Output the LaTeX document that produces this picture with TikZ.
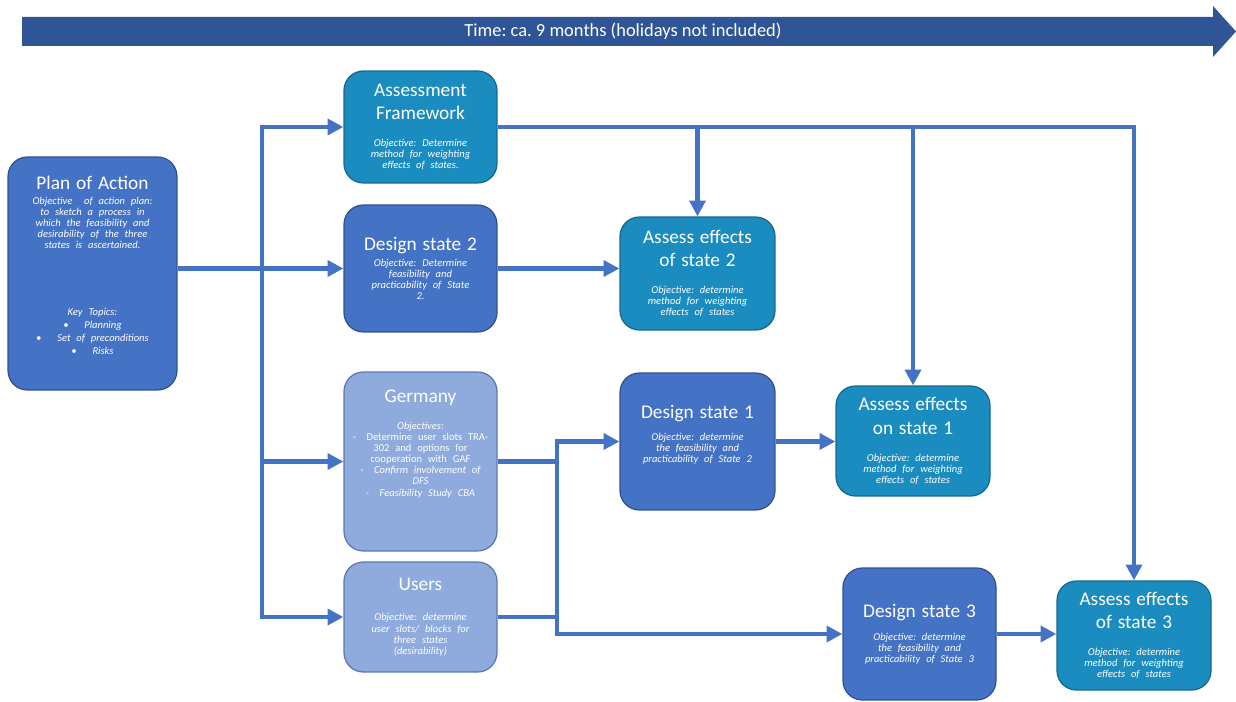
\documentclass[tikz,border=0pt]{standalone}
\usepackage{fontspec}
\setmainfont{Carlito}
\usetikzlibrary{arrows.meta}
\frenchspacing

\definecolor{boxblue}{HTML}{4472C4}
\definecolor{boxblueline}{HTML}{2F528F}
\definecolor{boxteal}{HTML}{1B8CC0}
\definecolor{boxtealline}{HTML}{16688F}
\definecolor{boxlight}{HTML}{8FAADC}
\definecolor{boxlightline}{HTML}{5B77B0}
\definecolor{timeblue}{HTML}{2F5597}
\definecolor{linkblue}{HTML}{4472C4}

% title, gap, objective text
\newcommand{\boxtext}[3]{{\fontsize{11}{13.5}\selectfont #1\par}\vspace{#2}{\fontsize{6}{6.3}\selectfont\itshape #3\par}}

\begin{document}
\begin{tikzpicture}[x=0.02cm,y=-0.02cm,
	box/.style={rounded corners=11pt, line width=0.7pt, text=white, align=center, inner sep=0pt},
	darkbox/.style={box, fill=boxblue, draw=boxblueline},
	tealbox/.style={box, fill=boxteal, draw=boxtealline},
	lightbox/.style={box, fill=boxlight, draw=boxlightline},
	link/.style={draw=linkblue, line width=2.8pt},
	arrowlink/.style={link, -{Triangle[length=9pt,width=9pt]}}]

	\useasboundingbox (0,0) rectangle (1236,702);

	\coordinate (trunk) at (262,0);
	\coordinate (merge) at (557,0);

	% time bar
	\fill[timeblue] (22,17) -- (1213,17) -- (1213,6) -- (1236,31.5) -- (1213,57) -- (1213,46) -- (22,46) -- cycle;
	\node[text=white, font=\fontsize{10.5}{11}\selectfont] (time) at (623,31.5) {Time: ca. 9 months (holidays not included)};

	% boxes
	\node[darkbox, minimum width=3.38cm, minimum height=4.66cm, text width=3.38cm] (plan) at (92.5,273.5)
		{\boxtext{Plan of Action}{2pt}{Objective\ \ of action plan:\\ to sketch a process in\\ which the feasibility and\\ desirability of the three\\ states is ascertained.\par\vspace{31pt}
		\fontsize{6}{7.4}\selectfont Key Topics:\\ \textbullet\hspace{9pt}Planning\\ \textbullet\hspace{9pt}Set of preconditions\\ \textbullet\hspace{9pt}Risks}\vspace{9pt}};
	\node[tealbox, minimum width=3.06cm, minimum height=2.24cm, text width=3.06cm] (af) at (420.5,127)
		{\boxtext{Assessment\\ Framework}{9pt}{Objective: Determine\\ method for weighting\\ effects of states.}};
	\node[darkbox, minimum width=3.06cm, minimum height=2.54cm, text width=3.06cm] (ds2) at (420.5,268.5)
		{\boxtext{Design state 2}{3pt}{Objective: Determine\\ feasibility and\\ practicability of State\\ 2.}};
	\node[lightbox, minimum width=3.06cm, minimum height=3.58cm, text width=3.06cm] (germany) at (420.5,461.5)
		{\boxtext{Germany}{9pt}{Objectives:\\ {\upshape -\hspace{6pt}Determine user slots TRA-\\ 302 and options for\\ cooperation with GAF}\\ -\hspace{6pt}Confirm involvement of\\ DFS\\ -\hspace{6pt}Feasibility Study CBA}\vspace{20pt}};
	\node[lightbox, minimum width=3.06cm, minimum height=2.2cm, text width=3.06cm] (users) at (420.5,617)
		{\boxtext{Users}{11pt}{Objective: determine\\ user slots/ blocks for\\ three states\\ (desirability)}};
	\node[tealbox, minimum width=3.1cm, minimum height=2.26cm, text width=3.1cm] (ae2) at (697.5,273.5)
		{\boxtext{Assess effects\\ of state 2}{9pt}{Objective: determine\\ method for weighting\\ effects of states}};
	\node[darkbox, minimum width=3.1cm, minimum height=2.74cm, text width=3.1cm] (ds1) at (697.5,441.5)
		{\boxtext{Design state 1}{6pt}{Objective: determine\\ the feasibility and\\ practicability of State 2}\vspace{8pt}};
	\node[tealbox, minimum width=3.08cm, minimum height=2.2cm, text width=3.08cm] (ae1) at (913,441)
		{\boxtext{Assess effects\\ on state 1}{9pt}{Objective: determine\\ method for weighting\\ effects of states}};
	\node[darkbox, minimum width=3.06cm, minimum height=2.64cm, text width=3.06cm] (ds3) at (919.5,634)
		{\boxtext{Design state 3}{7pt}{Objective: determine\\ the feasibility and\\ practicability of State 3}};
	\node[tealbox, minimum width=3.08cm, minimum height=2.18cm, text width=3.08cm] (ae3) at (1134,635.5)
		{\boxtext{Assess effects\\ of state 3}{9pt}{Objective: determine\\ method for weighting\\ effects of states}};

	% plan of action to the first column
	\draw[arrowlink] (plan.east |- ds2.west) -- (ds2.west);
	\draw[arrowlink] (trunk |- germany.west) -- (trunk |- af.west) -- (af.west);
	\draw[arrowlink] (trunk |- germany.west) -- (trunk |- users.west) -- (users.west);
	\draw[arrowlink] (trunk |- germany.west) -- (germany.west);

	% assessment framework feeds every assessment
	\draw[arrowlink] (af.east) -- (af.east -| ae3.north) -- (ae3.north);
	\draw[arrowlink] (af.east -| ae2.north) -- (ae2.north);
	\draw[arrowlink] (af.east -| ae1.north) -- (ae1.north);
	\draw[arrowlink] (ds2.east) -- (ds2.east -| ae2.west);

	% germany and users to design states 1 and 3
	\draw[link] (germany.east) -- (germany.east -| merge);
	\draw[link] (users.east) -- (users.east -| merge);
	\draw[arrowlink] (merge |- germany.east) -- (merge |- ds1.west) -- (ds1.west);
	\draw[arrowlink] (merge |- germany.east) -- (merge |- ds3.west) -- (ds3.west);
	\draw[arrowlink] (ds1.east) -- (ds1.east -| ae1.west);
	\draw[arrowlink] (ds3.east) -- (ds3.east -| ae3.west);

\end{tikzpicture}
\end{document}
